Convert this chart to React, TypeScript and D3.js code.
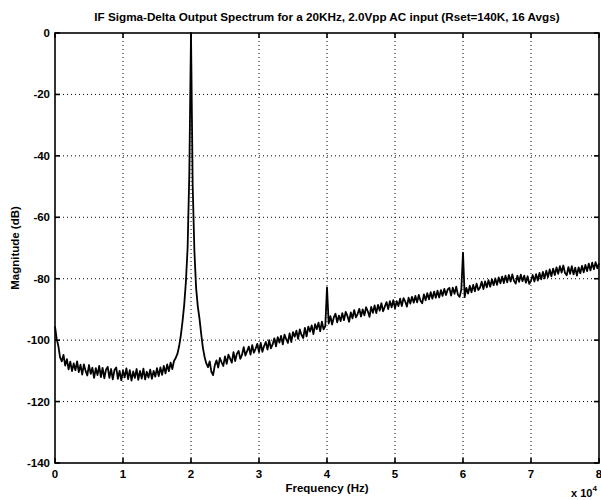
import React from "react";
import * as d3 from "d3";

// FFT bin spacing of the averaged spectrum (Hz)
const binHz = 250;

// Magnitude (dB) per bin, 0 – 19.75 kHz
const magBand1 = [
  -95.5, -99.6, -102.0, -105.6, -106.9, -104.8, -108.3, -106.2, -109.5, -107.0,
  -110.1, -107.6, -109.8, -106.9, -110.4, -108.0, -111.2, -107.9, -110.0, -111.5,
  -108.1, -111.0, -109.0, -112.3, -109.1, -111.4, -108.4, -112.0, -109.0, -112.4,
  -109.6, -108.7, -112.3, -109.4, -112.8, -109.7, -108.9, -112.6, -110.0, -113.1,
  -109.9, -112.1, -109.2, -112.7, -109.8, -113.2, -110.2, -112.3, -109.4, -112.9,
  -110.0, -112.5, -109.3, -112.8, -110.3, -112.2, -109.6, -112.6, -110.0, -111.9,
  -109.1, -111.7, -108.9, -111.3, -108.4, -110.8, -107.9, -110.1, -107.3, -109.4,
  -106.8, -105.8, -104.5, -102.0, -98.5, -94.0, -88.5, -81.0, -70.0, -46.0,
];

// 20 – 39.75 kHz (fundamental at 20 kHz)
const magBand2 = [
  0.0, -50.0, -71.0, -83.0, -89.0, -93.0, -98.0, -102.5, -105.5, -107.6,
  -108.8, -106.9, -110.3, -111.4, -108.2, -106.6, -108.9, -105.8, -107.2, -108.4,
  -105.3, -107.7, -104.7, -106.0, -107.3, -103.9, -106.8, -104.4, -103.5, -106.1,
  -104.8, -102.3, -105.0, -103.6, -102.1, -104.7, -101.6, -104.1, -102.8, -101.2,
  -103.9, -100.9, -103.8, -101.9, -100.6, -103.1, -100.0, -102.7, -101.4, -99.4,
  -102.0, -99.0, -100.8, -98.6, -101.4, -98.2, -99.7, -100.9, -97.8, -100.6,
  -97.4, -98.9, -96.9, -99.6, -96.5, -98.3, -99.3, -96.0, -98.8, -95.6,
  -97.2, -95.2, -98.0, -94.8, -96.4, -94.3, -97.1, -94.0, -96.5, -95.4,
];

// 40 – 59.75 kHz (2nd harmonic at 40 kHz)
const magBand3 = [
  -82.8, -94.6, -92.2, -94.9, -92.6, -91.4, -94.2, -92.0, -93.8, -91.2,
  -93.5, -90.8, -92.1, -94.0, -91.0, -92.9, -90.2, -92.6, -91.5, -89.8,
  -92.3, -90.0, -91.9, -89.3, -90.6, -92.4, -89.2, -91.1, -88.7, -91.2,
  -88.5, -90.4, -88.0, -90.6, -89.1, -87.6, -89.9, -87.3, -89.3, -87.0,
  -89.6, -87.3, -88.9, -86.5, -88.9, -86.3, -87.4, -89.1, -86.2, -88.1,
  -85.9, -87.8, -85.6, -87.7, -85.3, -87.2, -88.0, -85.1, -87.0, -84.7,
  -86.7, -84.4, -86.5, -84.2, -86.2, -83.9, -86.1, -83.7, -85.6, -83.3,
  -85.3, -83.5, -83.0, -85.5, -82.9, -84.9, -82.6, -85.2, -85.9, -83.6,
];

// 60 – 80 kHz (3rd harmonic at 60 kHz)
const magBand4 = [
  -71.5, -86.0, -83.0, -84.8, -82.3, -84.4, -82.0, -84.1, -81.6, -83.7,
  -82.9, -81.0, -83.4, -80.9, -82.8, -80.5, -82.6, -80.2, -82.1, -79.9,
  -82.0, -79.6, -81.5, -79.3, -81.4, -79.0, -81.2, -78.8, -80.9, -78.6,
  -80.7, -81.6, -79.0, -81.0, -78.7, -80.8, -79.0, -81.3, -79.2, -81.7,
  -80.6, -78.8, -80.9, -78.5, -80.6, -78.1, -80.2, -77.8, -79.9, -77.4,
  -79.5, -77.0, -79.2, -76.7, -78.8, -76.3, -78.4, -75.9, -78.0, -75.7,
  -78.1, -78.9, -76.2, -78.4, -75.9, -78.6, -76.4, -79.0, -76.3, -78.2,
  -75.8, -77.9, -75.5, -77.5, -75.1, -77.3, -74.8, -76.9, -74.6, -76.6,
  -75.0,
];

const xTicks = [0, 1, 2, 3, 4, 5, 6, 7, 8]; // x 10^4 Hz
const yTicks = [0, -20, -40, -60, -80, -100, -120, -140];

const titleText =
  "IF Sigma-Delta Output Spectrum for a 20KHz, 2.0Vpp AC input (Rset=140K, 16 Avgs)";

const W = 601;
const H = 500;
const M = { left: 55, right: 2, top: 33, bottom: 37 };

export default function App() {
  const mags = [...magBand1, ...magBand2, ...magBand3, ...magBand4];
  const data = mags.map((m, i) => ({ f: (i * binHz) / 1e4, m }));

  const x = d3.scaleLinear().domain([0, 8]).range([M.left, W - M.right]);
  const y = d3.scaleLinear().domain([-140, 0]).range([H - M.bottom, M.top]);

  const line = d3
    .line<{ f: number; m: number }>()
    .x((d) => x(d.f))
    .y((d) => y(d.m));

  const font = "'Liberation Sans', Arial, Helvetica, sans-serif";
  const tickLen = 5;
  const x0 = x(0), x1 = x(8), yTop = y(0), yBot = y(-140);

  return (
    <svg
      width={W}
      height={H}
      style={{ position: "absolute", left: 0, top: 0, background: "#fff" }}
      fontFamily={font}
      fontWeight="bold"
    >
      <rect x={0} y={0} width={W} height={H} fill="#fff" />
      {/* dotted grid */}
      <g stroke="#000" strokeWidth={1} strokeDasharray="1,3">
        {xTicks.slice(1, -1).map((t) => (
          <line key={"gx" + t} x1={x(t)} x2={x(t)} y1={yTop} y2={yBot} />
        ))}
        {yTicks.slice(1, -1).map((t) => (
          <line key={"gy" + t} x1={x0} x2={x1} y1={y(t)} y2={y(t)} />
        ))}
      </g>
      {/* spectrum trace */}
      <path d={line(data) || ""} fill="none" stroke="#000" strokeWidth={1.8} strokeLinejoin="round" />
      {/* frame and inward ticks */}
      <g stroke="#000" strokeWidth={1.6}>
        <rect x={x0} y={yTop} width={x1 - x0} height={yBot - yTop} fill="none" />
        {xTicks.map((t) => (
          <g key={"tx" + t}>
            <line x1={x(t)} x2={x(t)} y1={yBot} y2={yBot - tickLen} />
            <line x1={x(t)} x2={x(t)} y1={yTop} y2={yTop + tickLen} />
          </g>
        ))}
        {yTicks.map((t) => (
          <g key={"ty" + t}>
            <line x1={x0} x2={x0 + tickLen} y1={y(t)} y2={y(t)} />
            <line x1={x1} x2={x1 - tickLen} y1={y(t)} y2={y(t)} />
          </g>
        ))}
      </g>
      {/* tick labels */}
      <g fontSize={11.5} fill="#000">
        {xTicks.map((t) => (
          <text key={"lx" + t} x={x(t)} y={yBot + 15} textAnchor="middle">
            {t}
          </text>
        ))}
        {yTicks.map((t) => (
          <text key={"ly" + t} x={x0 - 5} y={y(t) + 4} textAnchor="end">
            {t === 0 ? "0" : "-" + Math.abs(t)}
          </text>
        ))}
      </g>
      {/* exponent */}
      <text x={571} y={497} fontSize={11}>
        x 10
        <tspan fontSize={8} dy={-6}>4</tspan>
      </text>
      {/* axis labels and title */}
      <text x={(x0 + x1) / 2} y={492} fontSize={11.5} textAnchor="middle">
        Frequency (Hz)
      </text>
      <text
        transform={`translate(19, ${(yTop + yBot) / 2}) rotate(-90)`}
        fontSize={11.5}
        textAnchor="middle"
      >
        Magnitude (dB)
      </text>
      <text x={(x0 + x1) / 2} y={21} fontSize={11.7} textAnchor="middle">
        {titleText}
      </text>
    </svg>
  );
}
